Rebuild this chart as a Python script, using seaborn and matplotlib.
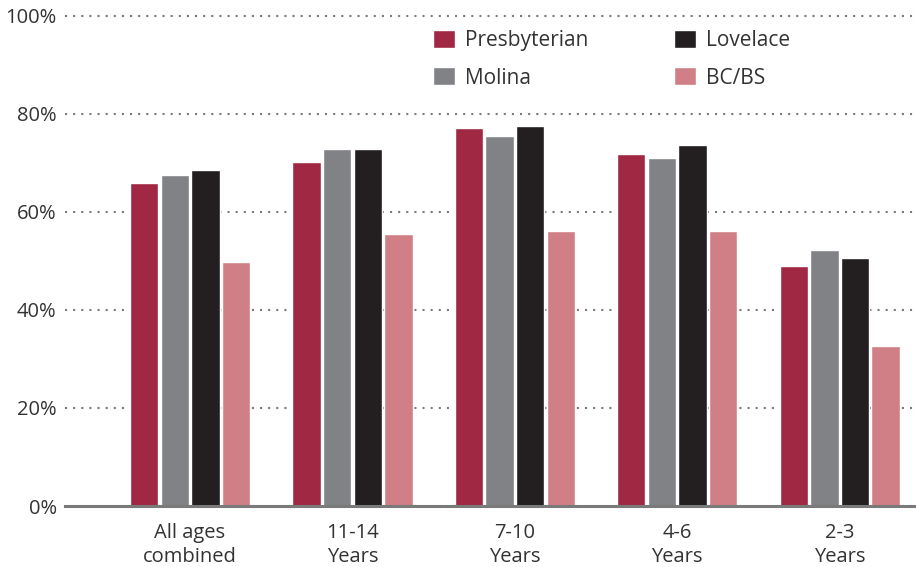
import matplotlib
matplotlib.use("Agg")
import matplotlib.pyplot as plt
import seaborn as sns
import pandas as pd

# Share of children meeting the measure, by age group and health plan (percent)
age_groups = ["All ages\ncombined", "11-14\nYears", "7-10\nYears", "4-6\nYears", "2-3\nYears"]
plans = ["Presbyterian", "Molina", "Lovelace", "BC/BS"]
presbyterian = [65.9, 70.2, 77.1, 71.8, 49.0]
molina = [67.6, 72.9, 75.5, 71.0, 52.2]
lovelace = [68.6, 72.9, 77.6, 73.7, 50.6]
bcbs = [49.8, 55.5, 56.1, 56.1, 32.7]
y_ticks = [0, 20, 40, 60, 80, 100]
y_tick_labels = ["0%", "20%", "40%", "60%", "80%", "100%"]

colors = {
    "Presbyterian": "#A12842",
    "Molina": "#818286",
    "Lovelace": "#231F20",
    "BC/BS": "#CF7F85",
}

series = [presbyterian, molina, lovelace, bcbs]
rows = []
for plan, values in zip(plans, series):
    for group, v in zip(age_groups, values):
        rows.append({"group": group, "plan": plan, "value": v})
df = pd.DataFrame(rows)

sns.set_theme(style="white")
plt.rcParams["font.family"] = ["Open Sans", "DejaVu Sans"]

fig = plt.figure(figsize=(9.16, 5.67), dpi=100)
ax = fig.add_axes([65 / 916, 1 - 506 / 567, 1 - 65 / 916, (506 - 11) / 567])

sns.barplot(
    data=df, x="group", y="value", hue="plan",
    order=age_groups, hue_order=plans, palette=colors,
    width=0.755, gap=0.075, saturation=1, ax=ax, zorder=3,
)

ax.set_ylim(0, 101)
ax.set_xlim(-0.77, 4.47)
ax.set_yticks(y_ticks)
ax.set_yticklabels(y_tick_labels)
ax.set_xlabel("")
ax.set_ylabel("")

ax.grid(axis="y", color="#7a7a7a", linestyle=(0, (1, 2.9)), linewidth=1.5, zorder=0)
ax.set_axisbelow(True)
for side in ["left", "right", "top"]:
    ax.spines[side].set_visible(False)
ax.spines["bottom"].set_color("#7a7a7a")
ax.spines["bottom"].set_linewidth(2.2)
ax.spines["bottom"].set_zorder(4)

ax.tick_params(axis="y", length=0, pad=6, labelsize=14.5, labelcolor="#333333")
ax.tick_params(axis="x", length=0, pad=12, labelsize=14.5, labelcolor="#333333")
for t in ax.get_xticklabels():
    t.set_linespacing(1.28)

handles, labels = ax.get_legend_handles_labels()
ax.legend(
    handles, labels, ncol=2, frameon=False,
    loc="upper left", bbox_to_anchor=(433 / 916, 1 - 30 / 567),
    bbox_transform=fig.transFigure, borderpad=0, borderaxespad=0,
    handlelength=1.05, handleheight=0.95, handletextpad=0.5,
    columnspacing=4.1, labelspacing=0.78,
    prop={"size": 15}, labelcolor="#333333",
)

fig.savefig("out.png", dpi=100)
